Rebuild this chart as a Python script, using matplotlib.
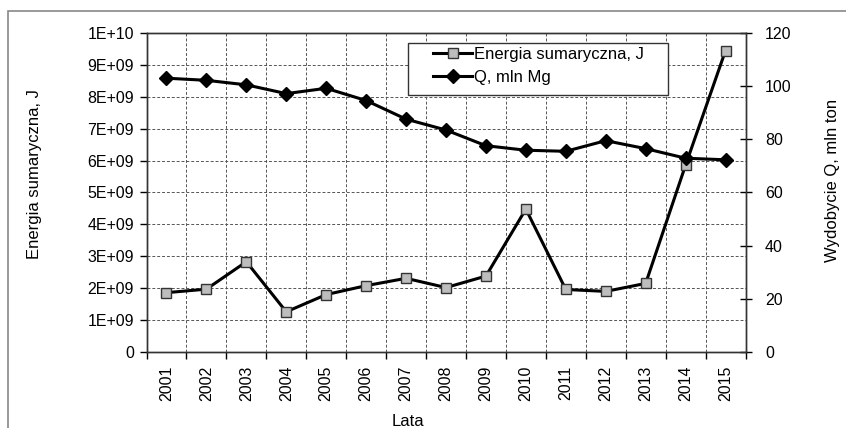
import matplotlib
matplotlib.use("Agg")
import matplotlib.pyplot as plt
import numpy as np
from matplotlib.patches import Rectangle

plt.rcParams["font.family"] = ["Liberation Sans", "DejaVu Sans"]

years = ["2001", "2002", "2003", "2004", "2005", "2006", "2007", "2008",
         "2009", "2010", "2011", "2012", "2013", "2014", "2015"]
energy = [1.86e9, 1.97e9, 2.83e9, 1.26e9, 1.80e9, 2.08e9, 2.31e9, 2.02e9,
          2.38e9, 4.48e9, 1.96e9, 1.90e9, 2.15e9, 5.86e9, 9.45e9]
q_mln = [103, 102.2, 100.5, 97.2, 99.2, 94.6, 87.6, 83.5,
         77.6, 75.9, 75.5, 79.5, 76.5, 72.9, 72.3]
left_ticks = [0, 1e9, 2e9, 3e9, 4e9, 5e9, 6e9, 7e9, 8e9, 9e9, 1e10]
left_labels = ["0", "1E+09", "2E+09", "3E+09", "4E+09", "5E+09",
               "6E+09", "7E+09", "8E+09", "9E+09", "1E+10"]
right_ticks = [0, 20, 40, 60, 80, 100, 120]

W, H = 846, 428
fig = plt.figure(figsize=(W / 100, H / 100), dpi=100)
ax = fig.add_axes([146.5 / W, 1 - 352 / H, 599 / W, 319 / H])
ax2 = ax.twinx()

# outer frame
fig.patches.append(Rectangle((8 / W, -0.1), 1.2, 1 - 11 / H + 0.1,
                             transform=fig.transFigure, fill=False,
                             edgecolor="#888888", linewidth=1.2))

x = np.arange(len(years))
ax.plot(x, energy, color="black", linewidth=2.2, marker="s", markersize=6.5,
        markerfacecolor="#bdbdbd", markeredgecolor="#333333", markeredgewidth=1,
        label="Energia sumaryczna, J")
ax2.plot(x, q_mln, color="black", linewidth=2.2, marker="D", markersize=7,
         markerfacecolor="black", markeredgecolor="black",
         label="Q, mln Mg")

ax.set_xlim(-0.5, len(years) - 0.5)
ax.set_ylim(0, 1e10)
ax2.set_ylim(0, 120)

ax.set_yticks(left_ticks)
ax.set_yticklabels(left_labels)
ax2.set_yticks(right_ticks)

ax.set_xticks(x)
ax.set_xticklabels(years, rotation=90)
ax.set_xticks(np.arange(len(years) + 1) - 0.5, minor=True)
ax.tick_params(axis="x", which="major", length=0, pad=10, labelsize=11.5)
ax.tick_params(axis="x", which="minor", length=5, direction="out", width=1)
ax.tick_params(axis="y", length=5, direction="out", width=1, labelsize=11.5, pad=4)
ax2.tick_params(axis="y", length=8, direction="inout", width=1, labelsize=11.5, pad=10)

ax.grid(True, which="minor", axis="x", linestyle=(0, (3, 2)), color="#555555", linewidth=0.7)
ax.grid(True, which="major", axis="y", linestyle=(0, (3, 2)), color="#555555", linewidth=0.7)
ax.set_axisbelow(True)

for a in (ax, ax2):
    for s in a.spines.values():
        s.set_color("#333333")
        s.set_linewidth(1)

# axis titles placed as in the original
fig.text(35 / W, 1 - 174 / H, "Energia sumaryczna, J", rotation=90,
         ha="center", va="center", fontsize=12)
fig.text(832 / W, 1 - 180 / H, "Wydobycie Q, mln ton", rotation=90,
         ha="center", va="center", fontsize=12)
fig.text(408 / W, 1 - 421 / H, "Lata", ha="center", va="center", fontsize=12)

# legend box
ax2.add_patch(Rectangle((408 / W, 1 - 95 / H), 260 / W, 52 / H,
                        transform=fig.transFigure, facecolor="white",
                        edgecolor="#333333", linewidth=1, zorder=5,
                        clip_on=False))
h1, l1 = ax.get_legend_handles_labels()
h2, l2 = ax2.get_legend_handles_labels()
leg = ax2.legend(h1 + h2, l1 + l2, loc="upper left",
                 bbox_to_anchor=(433 / W, 1 - 47 / H),
                 bbox_transform=fig.transFigure, borderaxespad=0,
                 fontsize=12, frameon=False, borderpad=0,
                 handlelength=2.35, handletextpad=0.1, labelspacing=0.5)
leg.set_zorder(6)

fig.savefig("out.png", dpi=100)
